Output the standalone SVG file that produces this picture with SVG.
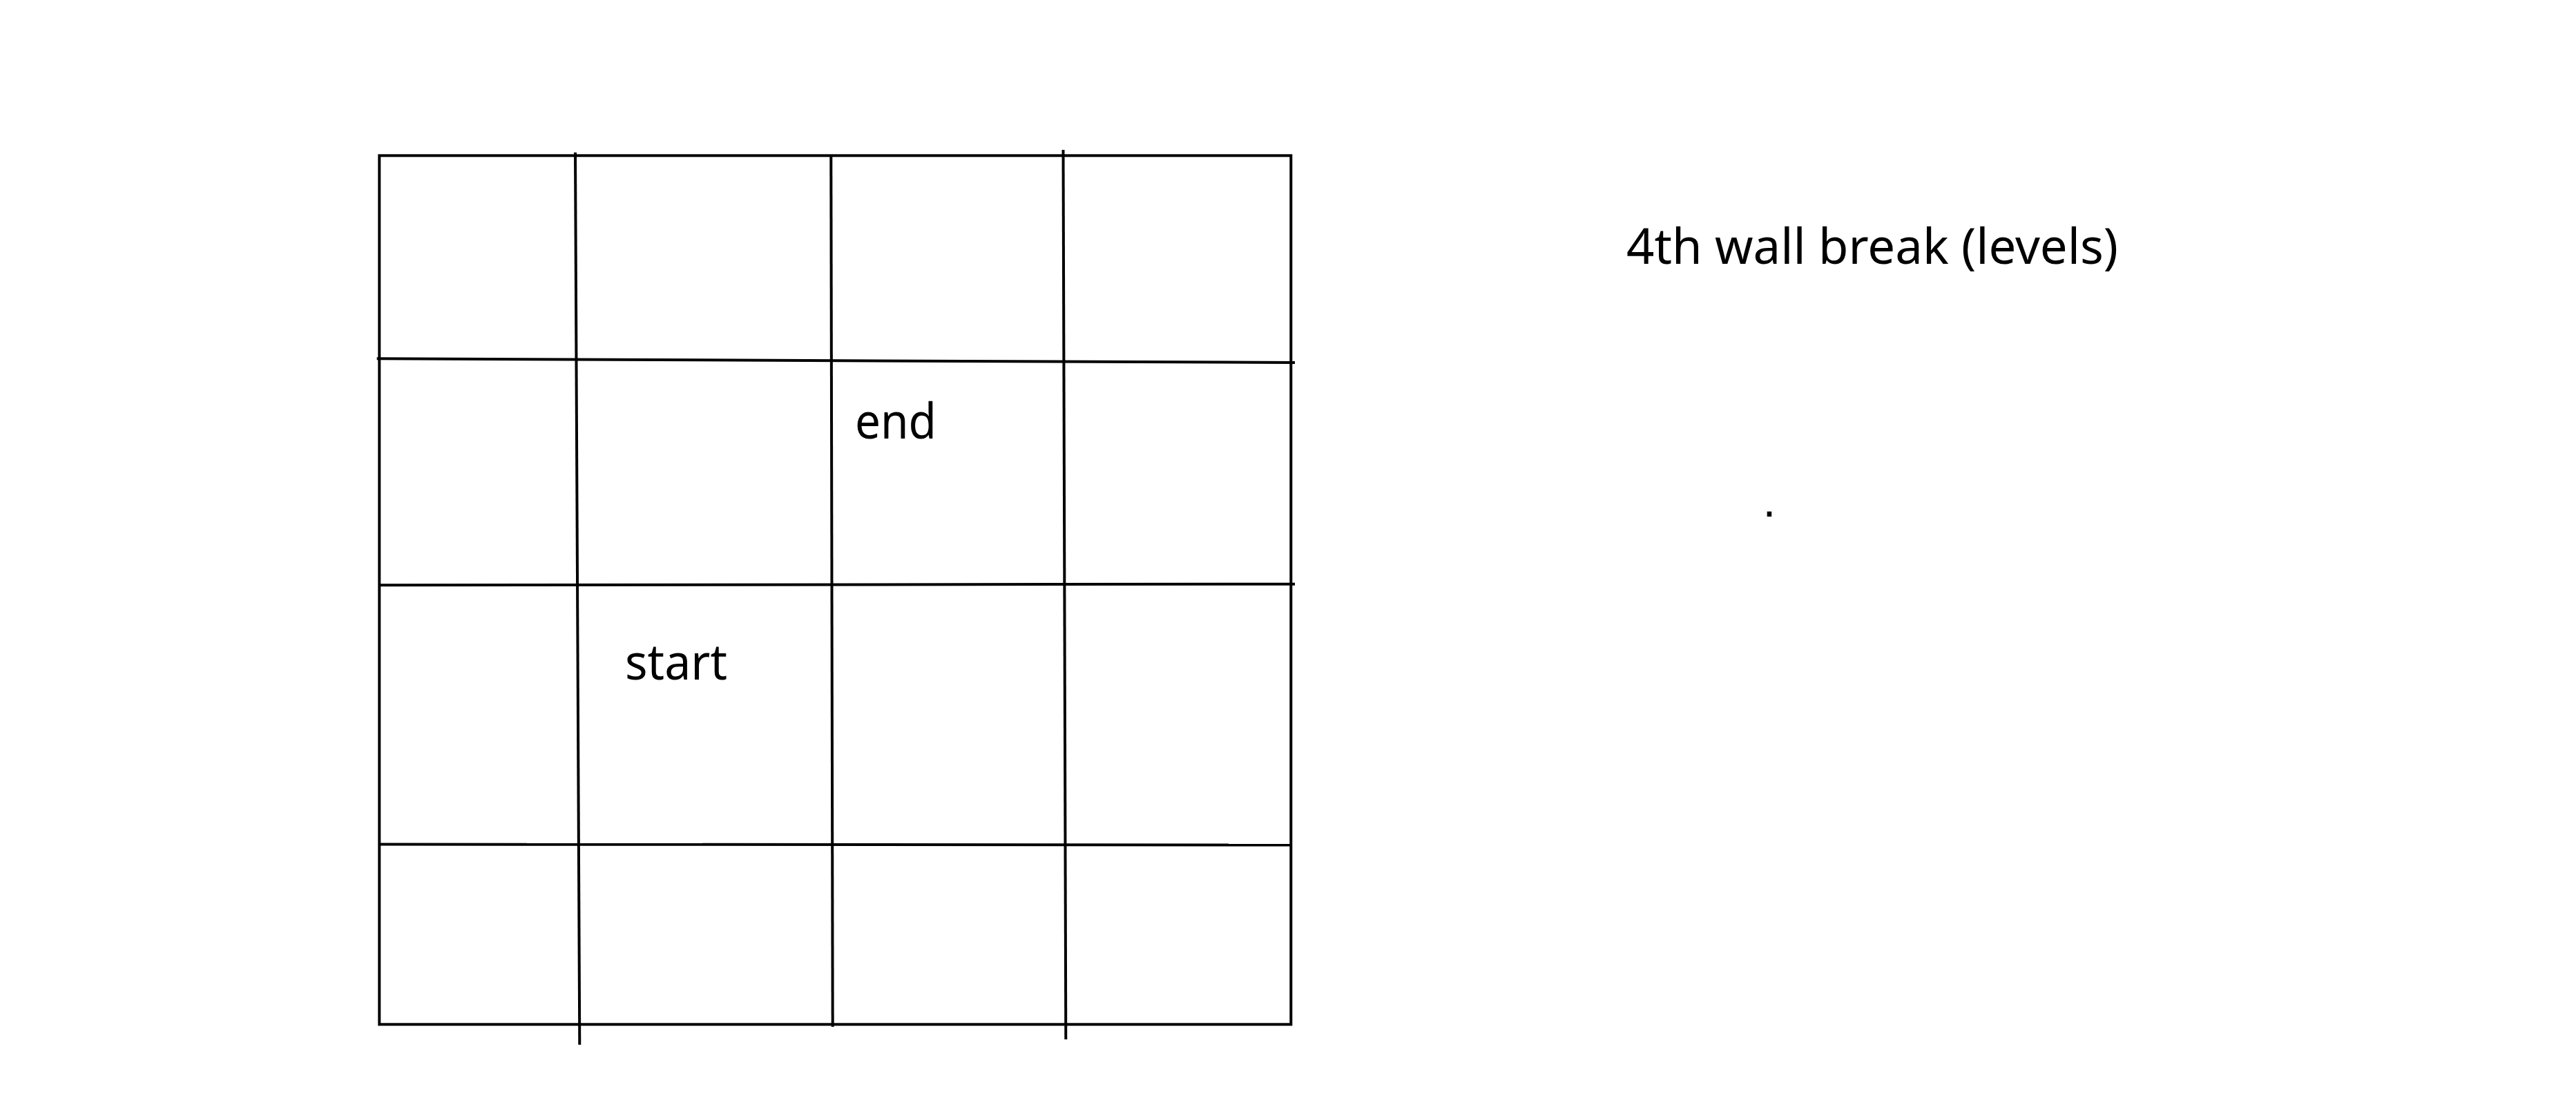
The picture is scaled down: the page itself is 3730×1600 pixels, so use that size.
<svg xmlns="http://www.w3.org/2000/svg" width="3730" height="1600" viewBox="0 0 3730 1600">
<style>
.ln{stroke:#000;stroke-width:4;fill:none;stroke-linecap:butt}
.lbl{font-family:"Noto Sans","Open Sans","Liberation Sans",sans-serif;font-size:71px;fill:#000}
</style>
<rect width="3730" height="1600" fill="#fff"/>
<g id="grid">
<rect class="ln" x="549.3" y="225.3" width="1320" height="1258"/>
<line class="ln" x1="545.7" y1="519.3" x2="1875" y2="525"/>
<line class="ln" x1="549" y1="847.3" x2="1875" y2="845.7"/>
<line class="ln" x1="549" y1="1222.5" x2="1869" y2="1223.5"/>
<line class="ln" x1="833" y1="220.7" x2="839.3" y2="1512.7"/>
<line class="ln" x1="1203.3" y1="225" x2="1205.7" y2="1486.7"/>
<line class="ln" x1="1539.5" y1="217" x2="1543.3" y2="1505"/>
</g>
<g id="end"><text class="lbl" x="1238" y="635" textLength="118" lengthAdjust="spacingAndGlyphs">end</text></g>
<g id="start"><text class="lbl" x="905" y="984" textLength="148" lengthAdjust="spacingAndGlyphs">start</text></g>
<g id="title"><text class="lbl" x="2355" y="382" textLength="712" lengthAdjust="spacingAndGlyphs">4th wall break (levels)</text></g>
<g id="dot"><text x="2552.5" y="748" font-family="Liberation Sans, Arial, sans-serif" font-size="68" fill="#000">.</text></g>
</svg>
